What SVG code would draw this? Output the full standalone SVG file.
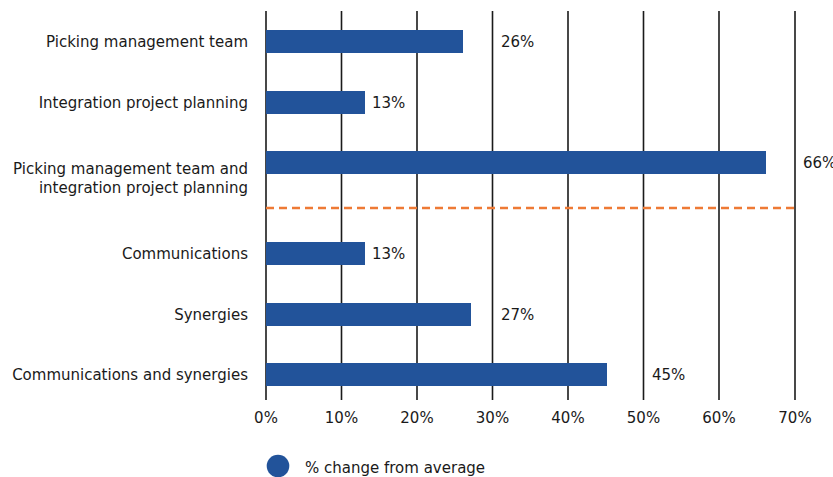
<svg xmlns="http://www.w3.org/2000/svg" width="833" height="477" viewBox="0 0 833 477">
<style>
text{font-family:"DejaVu Sans","Liberation Sans",sans-serif;font-size:15px;fill:#1a1a1a}
.cat{text-anchor:end}
.tick{text-anchor:middle}
.grid{stroke:#1a1a1a;stroke-width:1.6}
.bar{fill:#22539a}
.avg{stroke:#ee7a35;stroke-width:2.5;stroke-dasharray:8 5;fill:none}
</style>
<rect width="833" height="477" fill="#fff"/>
<g id="gridlines">
<line class="grid" x1="266" y1="11" x2="266" y2="400"/>
<line class="grid" x1="341.5" y1="11" x2="341.5" y2="400"/>
<line class="grid" x1="417" y1="11" x2="417" y2="400"/>
<line class="grid" x1="492.5" y1="11" x2="492.5" y2="400"/>
<line class="grid" x1="568" y1="11" x2="568" y2="400"/>
<line class="grid" x1="643.5" y1="11" x2="643.5" y2="400"/>
<line class="grid" x1="719" y1="11" x2="719" y2="400"/>
<line class="grid" x1="795" y1="11" x2="795" y2="400"/>
</g>
<g id="axis-labels">
<text class="tick" x="266" y="423">0%</text>
<text class="tick" x="341.5" y="423">10%</text>
<text class="tick" x="417" y="423">20%</text>
<text class="tick" x="492.5" y="423">30%</text>
<text class="tick" x="568" y="423">40%</text>
<text class="tick" x="643.5" y="423">50%</text>
<text class="tick" x="719" y="423">60%</text>
<text class="tick" x="795" y="423">70%</text>
</g>
<g id="bar-picking">
<text class="cat" x="248" y="47">Picking management team</text>
<rect class="bar" x="266" y="30" width="197" height="23"/>
<text x="501" y="47">26%</text>
</g>
<g id="bar-integration">
<text class="cat" x="248" y="108">Integration project planning</text>
<rect class="bar" x="266" y="91" width="99" height="23"/>
<text x="372" y="108">13%</text>
</g>
<g id="bar-picking-integration">
<text class="cat" x="248" y="173.5">Picking management team and</text>
<text class="cat" x="248" y="193">integration project planning</text>
<rect class="bar" x="266" y="151" width="500" height="23"/>
<text x="803" y="168">66%</text>
</g>
<g id="connectors">
<line class="avg" x1="266" y1="208" x2="797" y2="208"/>
</g>
<g id="bar-communications">
<text class="cat" x="248" y="259">Communications</text>
<rect class="bar" x="266" y="242" width="99" height="23"/>
<text x="372" y="259">13%</text>
</g>
<g id="bar-synergies">
<text class="cat" x="248" y="320">Synergies</text>
<rect class="bar" x="266" y="303" width="205" height="23"/>
<text x="501" y="320">27%</text>
</g>
<g id="bar-comm-synergies">
<text class="cat" x="248" y="380">Communications and synergies</text>
<rect class="bar" x="266" y="363" width="341" height="23"/>
<text x="652" y="380">45%</text>
</g>
<g id="legend">
<circle cx="278" cy="466" r="11.3" fill="#22539a"/>
<text x="305" y="473">% change from average</text>
</g>
</svg>
